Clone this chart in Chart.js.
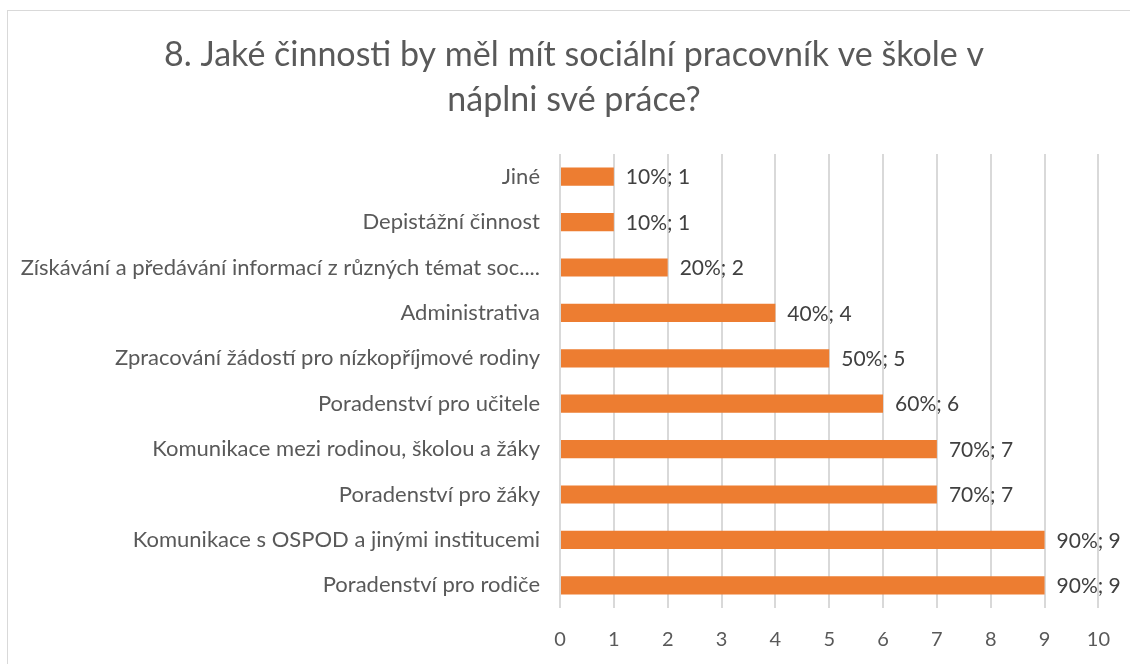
<!DOCTYPE html>
<html>
<head>
<meta charset="utf-8">
<script src="https://cdn.jsdelivr.net/npm/chart.js@4/dist/chart.umd.min.js"></script>
<style>
  html, body { margin: 0; padding: 0; background: #fff; overflow: hidden; }
  #frame {
    position: absolute; left: 7px; top: 10px; width: 1200px; height: 700px;
    border: 1.5px solid #d9d9d9; box-sizing: border-box;
  }
  #wrap { position: absolute; left: 0; top: 0; width: 1130px; height: 664px; }
</style>
</head>
<body>
<div id="frame"></div>
<div id="wrap"><canvas id="chart" width="1130" height="664"></canvas></div>
<script>
const categories = [
  "Jiné",
  "Depistážní činnost",
  "Získávání a předávání informací z různých témat soc....",
  "Administrativa",
  "Zpracování žádostí pro nízkopříjmové rodiny",
  "Poradenství pro učitele",
  "Komunikace mezi rodinou, školou a žáky",
  "Poradenství pro žáky",
  "Komunikace s OSPOD a jinými institucemi",
  "Poradenství pro rodiče"
];
const counts = [1, 1, 2, 4, 5, 6, 7, 7, 9, 9];
const percents = ["10%", "10%", "20%", "40%", "50%", "60%", "70%", "70%", "90%", "90%"];
const titleLines = ["8. Jaké činnosti by měl mít sociální pracovník ve škole v", "náplni své práce?"];

// draws "10%; 1" after each bar
const barLabels = {
  id: "barLabels",
  afterDatasetsDraw(chart) {
    const ctx = chart.ctx;
    const meta = chart.getDatasetMeta(0);
    ctx.save();
    ctx.font = "21px Lato, sans-serif";
    ctx.fillStyle = "#404040";
    ctx.textAlign = "left";
    ctx.textBaseline = "middle";
    meta.data.forEach((bar, i) => {
      ctx.fillText(percents[i] + "; " + counts[i], bar.x + 12, bar.y + 1);
    });
    ctx.restore();
  }
};

// title is centred a bit right of the canvas middle, like the original
const chartTitle = {
  id: "chartTitle",
  afterDraw(chart) {
    const ctx = chart.ctx;
    ctx.save();
    ctx.font = "34px Lato, sans-serif";
    ctx.fillStyle = "#595959";
    ctx.textAlign = "center";
    ctx.textBaseline = "middle";
    titleLines.forEach((line, i) => ctx.fillText(line, 574, 55 + i * 45));
    ctx.restore();
  }
};

new Chart(document.getElementById("chart"), {
  type: "bar",
  data: {
    labels: categories,
    datasets: [{
      data: counts,
      backgroundColor: "#ED7D31",
      barPercentage: 0.4,
      categoryPercentage: 1.0
    }]
  },
  options: {
    indexAxis: "y",
    responsive: false,
    animation: false,
    layout: { padding: { left: 10, right: 30, top: 154, bottom: -8 } },
    plugins: {
      legend: { display: false },
      tooltip: { enabled: false },
      title: { display: false }
    },
    scales: {
      x: {
        min: 0,
        max: 10,
        ticks: { stepSize: 1, color: "#595959", padding: 20, font: { family: "Lato, sans-serif", size: 20 } },
        grid: { color: "#d9d9d9", lineWidth: 2, drawTicks: false },
        border: { display: false }
      },
      y: {
        ticks: { color: "#595959", padding: 20, font: { family: "Lato, sans-serif", size: 22 } },
        grid: { display: false, drawTicks: false },
        border: { display: false },
        afterFit(scale) { scale.width = 550; }
      }
    }
  },
  plugins: [barLabels, chartTitle]
});
</script>
</body>
</html>
